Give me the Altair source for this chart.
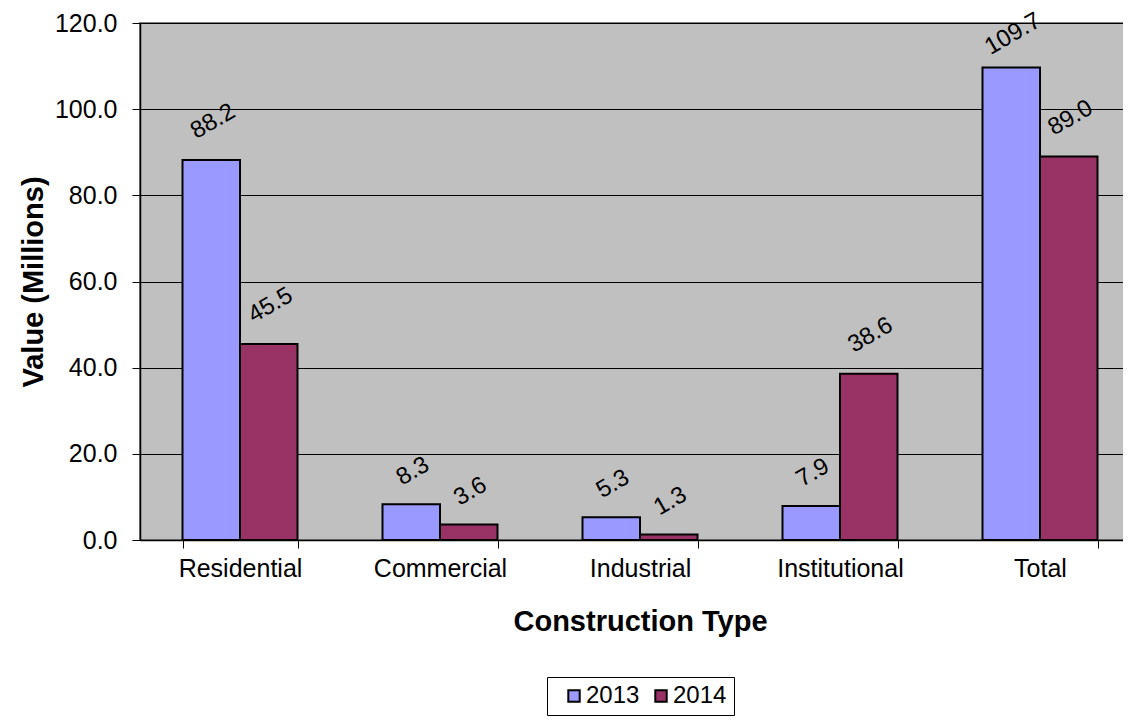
import altair as alt
import pandas as pd

categories = ["Residential", "Commercial", "Industrial", "Institutional", "Total"]
years = ["2013", "2014"]
v2013 = [88.2, 8.3, 5.3, 7.9, 109.7]
v2014 = [45.5, 3.6, 1.3, 38.6, 89.0]
colors = ["#9999FF", "#993366"]

rows = []
for c, a, b in zip(categories, v2013, v2014):
    rows.append({"type": c, "year": "2013", "value": a})
    rows.append({"type": c, "year": "2014", "value": b})
df = pd.DataFrame(rows)

FONT = "Liberation Sans"
PLOT_W, PLOT_H = 1000, 517
YMAX = 120

x = alt.X("type:N", sort=categories, title="Construction Type",
          scale=alt.Scale(paddingInner=0.425, paddingOuter=0.2125),
          axis=alt.Axis(labelAngle=0, labelFontSize=25, labelColor="black",
                        labelPadding=8, tickBand="extent", tickSize=8,
                        tickColor="black", domainColor="black", domainWidth=1.5,
                        titleFontSize=29, titleFontWeight="bold", titlePadding=26,
                        titleColor="black", grid=False))
y = alt.Y("value:Q", title="Value (Millions)",
          scale=alt.Scale(domain=[0, YMAX], nice=False),
          axis=alt.Axis(values=[0, 20, 40, 60, 80, 100, 120], format=".1f",
                        labelFontSize=25, labelColor="black", tickSize=8,
                        tickColor="black", domainColor="black", domainWidth=1.5,
                        labelPadding=15,
                        grid=True, gridColor="black", gridWidth=1,
                        titleFontSize=29, titleFontWeight="bold", titlePadding=6,
                        titleColor="black"))

xoff = alt.XOffset("year:N", sort=years)

bars = alt.Chart(df).mark_bar(stroke="black", strokeWidth=2).encode(
    x=x, y=y, xOffset=xoff,
    color=alt.Color("year:N", sort=years,
                    scale=alt.Scale(domain=years, range=colors),
                    legend=alt.Legend(title=None, orient="none", direction="horizontal",
                                      legendX=407, legendY=654,
                                      symbolType="square", symbolSize=130,
                                      symbolStrokeColor="black", symbolStrokeWidth=2,
                                      symbolOffset=8,
                                      labelFontSize=24, labelColor="black",
                                      strokeColor="black", fillColor="white",
                                      padding=7, columnPadding=1, labelOffset=0))
)

labels = alt.Chart(df).transform_calculate(
    label="format(datum.value, '.1f')"
).transform_calculate(
    labelY=f"min(datum.value + (15.5 + 5.5 * length(datum.label)) * {YMAX} / {PLOT_H}, 117.2)"
).mark_text(angle=330, fontSize=24, font=FONT, color="black",
            align="center", baseline="middle", dx=2).encode(
    x=alt.X("type:N", sort=categories),
    xOffset=xoff,
    y=alt.Y("labelY:Q"),
    text="label:N",
)

chart = (bars + labels).properties(
    width=PLOT_W, height=PLOT_H,
    autosize=alt.AutoSizeParams(type="none"),
    padding={"left": 132, "top": 15, "right": -17, "bottom": 177},
).configure(font=FONT).configure_view(
    fill="#C0C0C0", stroke="#808080", strokeWidth=2
)

chart.save("out.html", embed_options={"renderer": "svg", "actions": False})
